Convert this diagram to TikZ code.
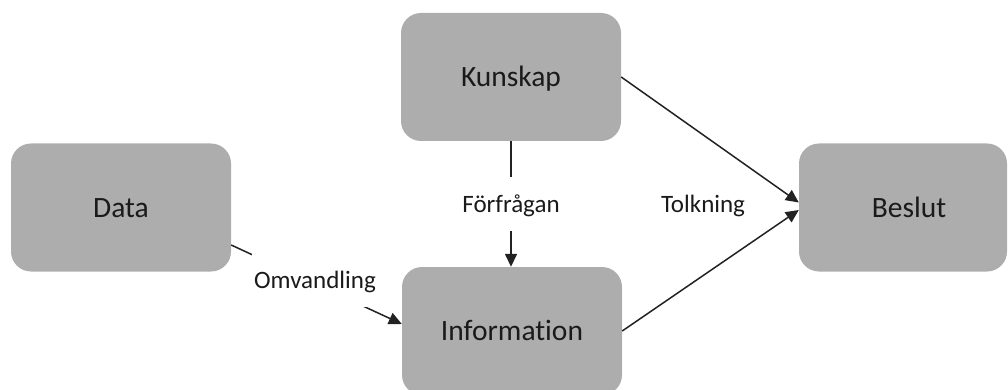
\documentclass[tikz,border=0pt]{standalone}
\usepackage{fontspec}
\setmainfont[RawFeature=-liga]{Carlito}
\usetikzlibrary{arrows.meta}

\definecolor{boxgray}{HTML}{ADADAD}
\definecolor{linegray}{HTML}{222222}
\definecolor{textdark}{HTML}{1A1A1A}

\tikzset{
  stage/.style={rounded corners=20pt, fill=boxgray, draw=none,
    minimum width=220pt, minimum height=128pt, inner sep=0pt,
    text=textdark, font=\fontsize{29.5}{35}\selectfont,
    text height=19pt, text depth=0pt},
  caption/.style={text=textdark, font=\fontsize{25}{30}\selectfont,
    text height=16pt, text depth=0pt, inner xsep=2pt},
  gapcaption/.style={caption, fill=white, minimum height=54pt},
  conn/.style={draw=linegray, line width=1.5pt,
    -{Triangle[length=13pt,width=12pt]}}
}

\begin{document}
\begin{tikzpicture}[x=1pt, y=-1pt]
  \useasboundingbox (0,0) rectangle (1008,390);

  % process stages
  \node[stage] (data)    at (121,207.5) {Data};
  \node[stage] (kunskap) at (511,77)    {Kunskap};
  \node[stage] (info)    at (512,331)   {Information};
  \node[stage, minimum width=208pt] (beslut) at (903,207.5) {};
  \node[stage, fill=none] (besluttext) at (909,207.5) {Beslut};

  % connectors
  \draw[conn] ([yshift=-37.5pt]data.east) -- ([yshift=7pt]info.west);
  \draw[conn] (kunskap.south) -- (kunskap.south |- info.north);
  \draw[conn] (kunskap.east) -- ([yshift=5pt]beslut.west);
  \draw[conn] (info.east) -- ([yshift=-2.5pt]beslut.west);

  % connector captions
  \node[gapcaption] (omv)  at (315,280) {Omvandling};
  \node[gapcaption] (forf) at (511,204) {Förfrågan};
  \node[caption]    (tolk) at (703,204) {Tolkning};
\end{tikzpicture}
\end{document}
